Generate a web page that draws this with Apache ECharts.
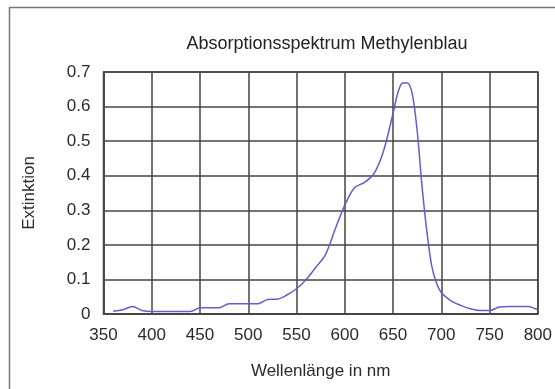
<!DOCTYPE html>
<html>
<head>
<meta charset="utf-8">
<script src="https://cdn.jsdelivr.net/npm/echarts@6/dist/echarts.min.js"></script>
<style>
  html, body { margin: 0; padding: 0; background: #fff; }
  #chart { width: 555px; height: 389px; }
</style>
</head>
<body>
<div id="chart"></div>
<script>
var wavelengths = [360, 370, 380, 390, 400, 420, 440, 450, 460, 470, 480, 490, 500, 510,
  520, 530, 540, 550, 560, 570, 580, 590, 600, 610, 620, 630, 640, 650, 655, 660, 665,
  670, 675, 680, 685, 690, 695, 700, 710, 720, 730, 740, 750, 760, 770, 780, 790, 800];
var extinction = [0.008, 0.012, 0.022, 0.01, 0.007, 0.007, 0.007, 0.018, 0.018, 0.018, 0.03, 0.03, 0.03, 0.03,
  0.042, 0.043, 0.055, 0.073, 0.1, 0.135, 0.172, 0.245, 0.315, 0.365, 0.38, 0.405, 0.47, 0.58, 0.64, 0.668, 0.668,
  0.635, 0.53, 0.37, 0.24, 0.14, 0.09, 0.062, 0.038, 0.025, 0.015, 0.01, 0.01, 0.02, 0.022, 0.022, 0.022, 0.012];

var chart = echarts.init(document.getElementById('chart'));

var gridLine = { lineStyle: { color: '#444', width: 1.5 } };
var labelStyle = { color: '#2a2a2a', fontSize: 17, fontFamily: 'Liberation Sans' };
var nameStyle = { color: '#2a2a2a', fontSize: 17, fontFamily: 'Liberation Sans' };

var option = {
  animation: false,
  textStyle: { fontFamily: 'Liberation Sans' },
  title: {
    text: 'Absorptionsspektrum Methylenblau',
    left: 322, top: 30, textAlign: 'center',
    textStyle: { fontSize: 18, fontWeight: 'normal', color: '#222', fontFamily: 'Liberation Sans' }
  },
  graphic: [{
    type: 'rect',
    shape: { x: 9.5, y: 7.5, width: 560, height: 400 },
    style: { fill: 'none', stroke: '#777', lineWidth: 1.5 },
    silent: true
  }],
  grid: {
    left: 103.5, right: 16, top: 72, bottom: 75,
    show: true, borderColor: '#444', borderWidth: 1.5
  },
  xAxis: {
    type: 'value', min: 350, max: 800, interval: 50,
    name: 'Wellenlänge in nm', nameLocation: 'middle', nameGap: 49,
    nameTextStyle: nameStyle,
    axisLine: gridLine, axisTick: { show: false },
    axisLabel: Object.assign({ margin: 13 }, labelStyle),
    splitLine: gridLine
  },
  yAxis: {
    type: 'value', min: 0, max: 0.7, interval: 0.1,
    name: 'Extinktion', nameLocation: 'middle', nameGap: 66,
    nameTextStyle: nameStyle,
    axisLine: Object.assign({ show: true }, gridLine), axisTick: { show: false },
    axisLabel: Object.assign({ margin: 13, formatter: function (v) { return v === 0 ? '0' : v.toFixed(1); } }, labelStyle),
    splitLine: gridLine
  },
  series: [{
    type: 'line',
    data: wavelengths.map(function (w, i) { return [w, extinction[i]]; }),
    smooth: 0.3,
    showSymbol: false,
    lineStyle: { color: '#6a5acd', width: 1.5 }
  }]
};

chart.setOption(option);
</script>
</body>
</html>
